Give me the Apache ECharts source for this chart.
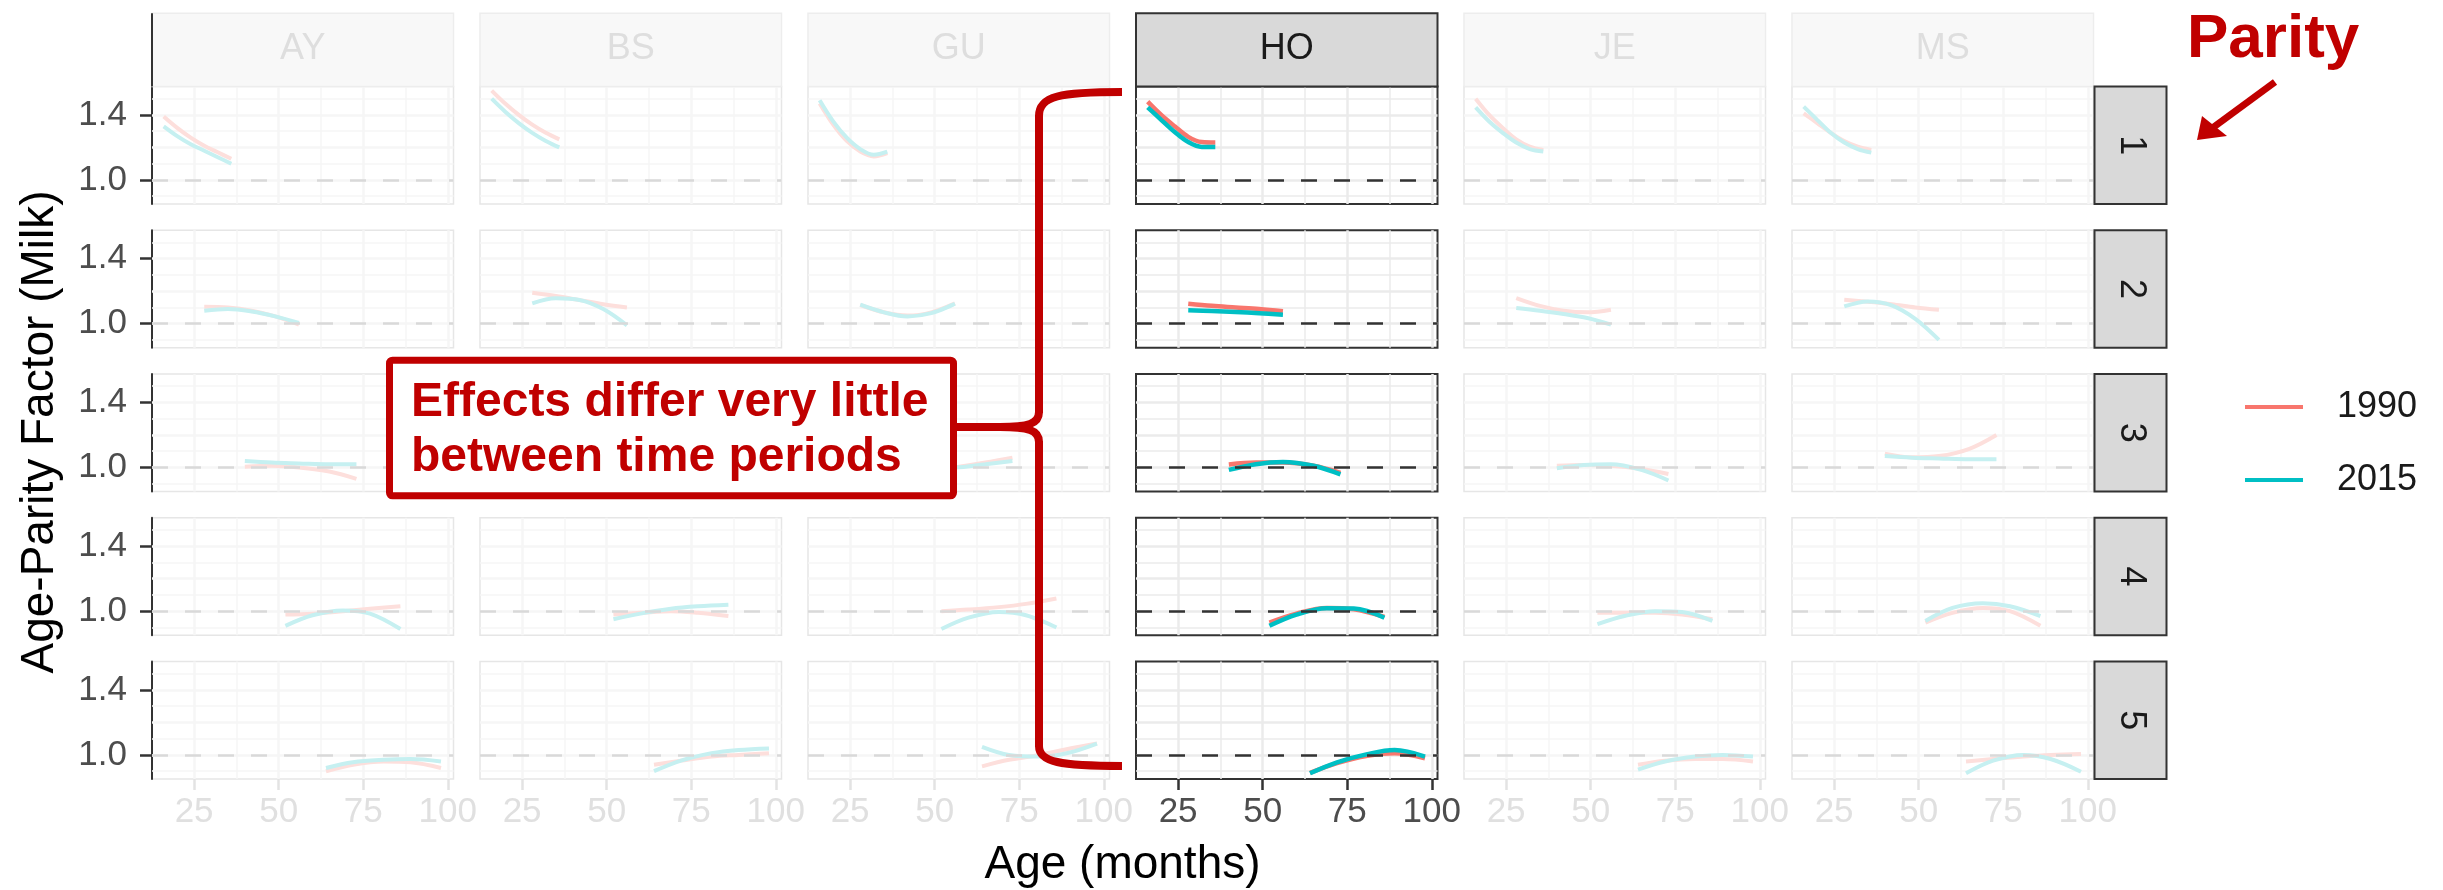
<!DOCTYPE html>
<html>
<head>
<meta charset="utf-8">
<script src="https://cdn.jsdelivr.net/npm/echarts@6/dist/echarts.min.js"></script>
<style>
html,body{margin:0;padding:0;background:#ffffff;}
#chart{width:2443px;height:890px;}
</style>
</head>
<body>
<div id="chart"></div>
<script>
// ---------------- DATA ----------------
const breeds = ['AY', 'BS', 'GU', 'HO', 'JE', 'MS'];
const parities = ['1', '2', '3', '4', '5'];
const years = ['1990', '2015'];
const focusBreed = 'HO';

// ages (months) sampled along each parity's curve
const ageP1 = [16, 20, 24, 28, 32, 36];
const ageP2 = [28, 35, 42, 49, 56];
const ageP3 = [40, 48, 56, 65, 73];
const ageP4 = [52, 60, 69, 77, 86];
const ageP5 = [64, 72, 81, 89, 98];

// factor values: one sub-array per parity (1..5)
const AY_1990 = [[1.39, 1.32, 1.26, 1.21, 1.17, 1.13], [1.105, 1.10, 1.08, 1.045, 0.995], [1.005, 1.01, 1.0, 0.975, 0.93], [0.98, 0.985, 1.0, 1.015, 1.03], [0.90, 0.94, 0.96, 0.955, 0.92]];
const AY_2015 = [[1.33, 1.27, 1.22, 1.18, 1.14, 1.10], [1.08, 1.09, 1.075, 1.045, 1.005], [1.04, 1.03, 1.025, 1.02, 1.02], [0.91, 0.975, 1.005, 0.985, 0.89], [0.92, 0.955, 0.97, 0.975, 0.96]];
const BS_1990 = [[1.55, 1.47, 1.40, 1.34, 1.29, 1.25], [1.19, 1.17, 1.145, 1.12, 1.10], [1.08, 1.06, 1.04, 1.01, 0.98], [0.98, 0.99, 1.0, 0.99, 0.97], [0.94, 0.965, 0.99, 1.0, 1.01]];
const BS_2015 = [[1.50, 1.42, 1.35, 1.29, 1.24, 1.20], [1.125, 1.156, 1.146, 1.09, 0.99], [1.05, 1.06, 1.04, 1.0, 0.95], [0.95, 0.985, 1.015, 1.03, 1.04], [0.90, 0.965, 1.01, 1.03, 1.04]];
const GU_1990 = [[1.47, 1.34, 1.24, 1.175, 1.145, 1.165], [1.115, 1.07, 1.05, 1.07, 1.125], [0.97, 0.98, 1.0, 1.03, 1.06], [1.0, 1.01, 1.025, 1.045, 1.078], [0.93, 0.97, 1.0, 1.035, 1.07]];
const GU_2015 = [[1.49, 1.36, 1.26, 1.19, 1.155, 1.174], [1.117, 1.07, 1.045, 1.065, 1.123], [1.0, 1.0, 1.0, 1.02, 1.04], [0.89, 0.96, 0.995, 0.975, 0.90], [1.05, 1.0, 0.99, 1.01, 1.07]];
const HO_1990 = [[1.482, 1.40, 1.33, 1.265, 1.233, 1.23], [1.123, 1.11, 1.10, 1.09, 1.076], [1.018, 1.03, 1.03, 1.01, 0.967], [0.93, 0.985, 1.02, 1.012, 0.965], [0.89, 0.95, 0.995, 1.01, 0.98]];
const HO_2015 = [[1.447, 1.37, 1.295, 1.233, 1.203, 1.203], [1.082, 1.078, 1.072, 1.064, 1.055], [0.985, 1.02, 1.033, 1.01, 0.957], [0.91, 0.979, 1.018, 1.016, 0.96], [0.887, 0.955, 1.005, 1.03, 0.99]];
const JE_1990 = [[1.50, 1.40, 1.32, 1.25, 1.205, 1.185], [1.158, 1.11, 1.08, 1.07, 1.086], [1.01, 1.015, 1.01, 0.99, 0.96], [0.99, 0.99, 0.99, 0.98, 0.95], [0.94, 0.965, 0.975, 0.975, 0.96]];
const JE_2015 = [[1.447, 1.36, 1.29, 1.23, 1.19, 1.175], [1.097, 1.08, 1.06, 1.035, 0.994], [0.995, 1.015, 1.02, 0.985, 0.92], [0.92, 0.97, 1.0, 0.995, 0.94], [0.91, 0.96, 0.99, 1.0, 0.99]];
const MS_1990 = [[1.41, 1.35, 1.29, 1.24, 1.205, 1.185], [1.148, 1.135, 1.12, 1.10, 1.086], [1.085, 1.062, 1.07, 1.115, 1.20], [0.93, 0.99, 1.02, 1.0, 0.91], [0.96, 0.975, 0.99, 1.0, 1.006]];
const MS_2015 = [[1.451, 1.37, 1.29, 1.23, 1.19, 1.168], [1.106, 1.137, 1.113, 1.03, 0.90], [1.07, 1.06, 1.055, 1.05, 1.05], [0.94, 1.02, 1.049, 1.03, 0.97], [0.887, 0.965, 1.0, 0.975, 0.897]];

// axis ticks / grid lines
const xTicks = [25, 50, 75, 100];
const xMinor = [37.5, 62.5, 87.5];
const yTicks = [1.0, 1.2, 1.4];
const yMinor = [0.9, 1.1, 1.3, 1.5];
const refValue = 1.0;

// ---------------- BUILD ----------------
const agesByParity = [ageP1, ageP2, ageP3, ageP4, ageP5];
const valueTable = {
  AY: { '1990': AY_1990, '2015': AY_2015 },
  BS: { '1990': BS_1990, '2015': BS_2015 },
  GU: { '1990': GU_1990, '2015': GU_2015 },
  HO: { '1990': HO_1990, '2015': HO_2015 },
  JE: { '1990': JE_1990, '2015': JE_2015 },
  MS: { '1990': MS_1990, '2015': MS_2015 }
};

const FONT = '"Liberation Sans", Arial, Helvetica, sans-serif';
const RED = '#C00000';
const yearColor = { '1990': '#F8766D', '2015': '#00BFC4' };
const yearFaded = { '1990': '#FDDFDC', '2015': '#C6F0F1' };

const PANEL_LEFT0 = 152, COL_PITCH = 328, PW = 301.5;
const PANEL_TOP0 = 86.5, ROW_PITCH = 143.75, PH = 117.5;
const X_MIN = 12.55, X_MAX = 101.7, Y_MIN = 0.852, Y_MAX = 1.575;
const colLeft = c => PANEL_LEFT0 + COL_PITCH * c;
const rowTop = r => PANEL_TOP0 + ROW_PITCH * r;

const grids = [], xAxes = [], yAxes = [], series = [];

parities.forEach((p, r) => {
  breeds.forEach((b, c) => {
    const idx = r * breeds.length + c;
    const focus = b === focusBreed;
    grids.push({
      left: colLeft(c), top: rowTop(r), width: PW, height: PH,
      show: true, borderColor: focus ? '#333333' : '#E6E6E6', borderWidth: focus ? 2 : 1.5,
      backgroundColor: 'rgba(0,0,0,0)'
    });
    xAxes.push({
      type: 'value', gridIndex: idx, min: X_MIN, max: X_MAX,
      splitLine: { show: false },
      axisLine: { show: false, onZero: false },
      axisTick: { show: r === parities.length - 1, customValues: xTicks, length: 11,
        lineStyle: { color: focus ? '#333333' : '#E3E3E3', width: 2.5 } },
      axisLabel: { show: r === parities.length - 1, customValues: xTicks, fontSize: 35,
        fontFamily: FONT, color: focus ? '#4D4D4D' : '#E0E0E0', margin: 16, hideOverlap: false }
    });
    yAxes.push({
      type: 'value', gridIndex: idx, min: Y_MIN, max: Y_MAX,
      splitLine: { show: false },
      axisLine: { show: c === 0, onZero: false, lineStyle: { color: '#333333', width: 2 } },
      axisTick: { show: c === 0, customValues: yTicks, length: 12, interval: 0, lineStyle: { color: '#333333', width: 2.5 } },
      axisLabel: { show: c === 0, customValues: yTicks, fontSize: 35, fontFamily: FONT, lineHeight: 26,
        hideOverlap: false, interval: 0, showMinLabel: true, showMaxLabel: true,
        color: '#4D4D4D', margin: 25, formatter: v => Number(v).toFixed(1) }
    });

    const gridCol = focus ? '#EBEBEB' : '#F6F6F6';
    const gridLines = []
      .concat(xTicks.map(v => ({ xAxis: v, lineStyle: { color: gridCol, width: 2.5, type: 'solid' } })))
      .concat(xMinor.map(v => ({ xAxis: v, lineStyle: { color: gridCol, width: 1.5, type: 'solid' } })))
      .concat(yTicks.map(v => ({ yAxis: v, lineStyle: { color: gridCol, width: 2.5, type: 'solid' } })))
      .concat(yMinor.map(v => ({ yAxis: v, lineStyle: { color: gridCol, width: 1.5, type: 'solid' } })));

    years.forEach((yr, k) => {
      const vals = valueTable[b][yr][r];
      const col = focus ? yearColor[yr] : yearFaded[yr];
      const s = {
        type: 'line', name: yr, xAxisIndex: idx, yAxisIndex: idx,
        data: agesByParity[r].map((a, i) => [a, vals[i]]),
        smooth: 0.35, symbol: 'none', silent: true,
        lineStyle: { width: focus ? 4.5 : 4, color: col, cap: 'butt' },
        itemStyle: { color: col },
        z: 3 + k, animation: false
      };
      if (k === 0) {
        s.markLine = { silent: true, symbol: ['none', 'none'], label: { show: false }, z: 1,
          animation: false, emphasis: { disabled: true }, data: gridLines };
      } else {
        s.markLine = { silent: true, symbol: ['none', 'none'], label: { show: false }, z: 6,
          animation: false, emphasis: { disabled: true },
          data: [{ yAxis: refValue, lineStyle: { color: focus ? '#333333' : '#D9D9D9', width: 2.5, type: [16, 17] } }] };
      }
      series.push(s);
    });
  });
});

// ---------------- GRAPHICS (strips, titles, annotations) ----------------
const graphics = [];
breeds.forEach((b, c) => {
  const focus = b === focusBreed;
  graphics.push({ type: 'rect', z: 10, shape: { x: colLeft(c), y: 13.3, width: PW, height: PANEL_TOP0 - 13.3 },
    style: { fill: focus ? '#D9D9D9' : '#F8F8F8', stroke: focus ? '#333333' : '#EDEDED', lineWidth: focus ? 2 : 1.5 } });
  graphics.push({ type: 'text', z: 11, x: colLeft(c) + PW / 2, y: 49,
    style: { text: b, fontSize: 36, fontFamily: FONT, fill: focus ? '#1A1A1A' : '#DEDEDE', align: 'center', verticalAlign: 'middle' } });
});
parities.forEach((p, r) => {
  graphics.push({ type: 'rect', z: 10, shape: { x: 2094.5, y: rowTop(r), width: 72, height: PH },
    style: { fill: '#D9D9D9', stroke: '#333333', lineWidth: 2 } });
  graphics.push({ type: 'text', z: 11, x: 2130.5, y: rowTop(r) + PH / 2, rotation: -Math.PI / 2,
    style: { text: p, fontSize: 36, fontFamily: FONT, fill: '#1A1A1A', align: 'center', verticalAlign: 'middle' } });
});
// dark left edge on first strip
graphics.push({ type: 'line', z: 12, shape: { x1: PANEL_LEFT0, y1: 13.3, x2: PANEL_LEFT0, y2: PANEL_TOP0 },
  style: { stroke: '#333333', lineWidth: 2 } });
// axis titles
graphics.push({ type: 'text', z: 11, x: 1122.5, y: 865,
  style: { text: 'Age (months)', fontSize: 46, fontFamily: FONT, fill: '#000000', align: 'center', verticalAlign: 'middle' } });
graphics.push({ type: 'text', z: 11, x: 40, y: 432, rotation: Math.PI / 2,
  style: { text: 'Age-Parity Factor (Milk)', fontSize: 46, fontFamily: FONT, fill: '#000000', align: 'center', verticalAlign: 'middle' } });

// annotation box
graphics.push({ type: 'rect', z: 100, shape: { x: 389.5, y: 360.2, width: 564, height: 135.6, r: 3 },
  style: { fill: '#FFFFFF', stroke: RED, lineWidth: 7 } });
graphics.push({ type: 'text', z: 101, x: 411, y: 403,
  style: { text: 'Effects differ very little', fontSize: 48, fontWeight: 'bold', fontFamily: FONT, fill: RED, align: 'left', verticalAlign: 'middle' } });
graphics.push({ type: 'text', z: 101, x: 411, y: 458,
  style: { text: 'between time periods', fontSize: 48, fontWeight: 'bold', fontFamily: FONT, fill: RED, align: 'left', verticalAlign: 'middle' } });

// curly bracket
const br = { stroke: RED, lineWidth: 8, fill: null, lineCap: 'butt' };
graphics.push({ type: 'bezierCurve', z: 100, shape: { x1: 1122, y1: 92, cpx1: 1060, cpy1: 92, cpx2: 1039, cpy2: 96, x2: 1039, y2: 116 }, style: br });
graphics.push({ type: 'line', z: 100, shape: { x1: 1039, y1: 115, x2: 1039, y2: 413 }, style: br });
graphics.push({ type: 'bezierCurve', z: 100, shape: { x1: 1039, y1: 412, cpx1: 1039, cpy1: 424, cpx2: 1028, cpy2: 427, x2: 1000, y2: 427 }, style: br });
graphics.push({ type: 'line', z: 100, shape: { x1: 1001, y1: 427, x2: 956, y2: 427 }, style: br });
graphics.push({ type: 'bezierCurve', z: 100, shape: { x1: 1000, y1: 427, cpx1: 1028, cpy1: 427, cpx2: 1039, cpy2: 430, x2: 1039, y2: 442 }, style: br });
graphics.push({ type: 'line', z: 100, shape: { x1: 1039, y1: 441, x2: 1039, y2: 747 }, style: br });
graphics.push({ type: 'bezierCurve', z: 100, shape: { x1: 1039, y1: 746, cpx1: 1039, cpy1: 762, cpx2: 1060, cpy2: 766, x2: 1122, y2: 766 }, style: br });

// "Parity" label with arrow
graphics.push({ type: 'text', z: 101, x: 2187, y: 40,
  style: { text: 'Parity', fontSize: 62, fontWeight: 'bold', fontFamily: FONT, fill: RED, align: 'left', verticalAlign: 'middle' } });
graphics.push({ type: 'line', z: 100, shape: { x1: 2275, y1: 82, x2: 2211, y2: 129 }, style: { stroke: RED, lineWidth: 7 } });
graphics.push({ type: 'polygon', z: 100, shape: { points: [[2197, 140], [2202, 116], [2227, 136]] }, style: { fill: RED } });

// ---------------- OPTION ----------------
const legendCommon = {
  selectedMode: false, orient: 'vertical', left: 2245, itemWidth: 58, itemHeight: 4, icon: 'rect',
  padding: 0, textStyle: { fontSize: 36, fontFamily: FONT, color: '#1A1A1A', padding: [0, 0, 0, 29], lineHeight: 36 }
};
const option = {
  animation: false,
  backgroundColor: '#FFFFFF',
  textStyle: { fontFamily: FONT },
  grid: grids,
  xAxis: xAxes,
  yAxis: yAxes,
  legend: [
    Object.assign({}, legendCommon, { top: 389, data: [{ name: years[0], itemStyle: { color: yearColor[years[0]] } }] }),
    Object.assign({}, legendCommon, { top: 462, data: [{ name: years[1], itemStyle: { color: yearColor[years[1]] } }] })
  ],
  series: series,
  graphic: { elements: graphics }
};

const chart = echarts.init(document.getElementById('chart'), null, { renderer: 'canvas', width: 2443, height: 890 });
chart.setOption(option);
</script>
</body>
</html>
